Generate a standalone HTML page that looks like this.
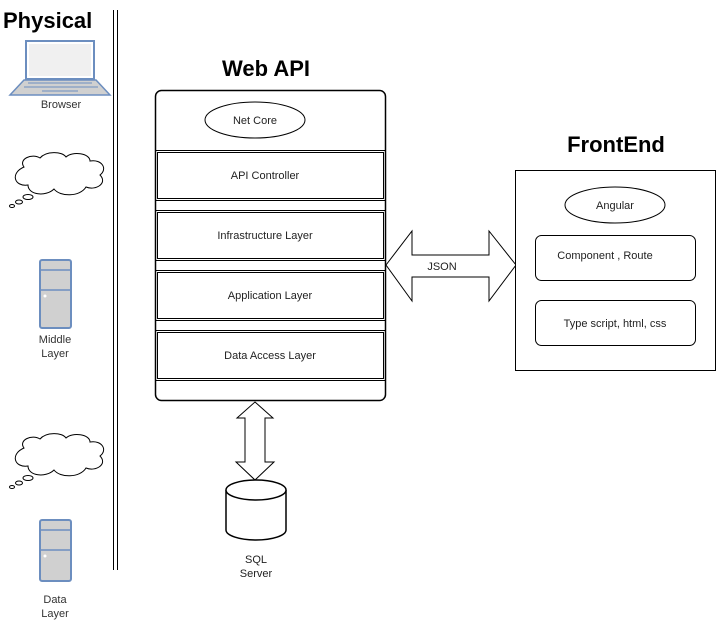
<!DOCTYPE html>
<html><head><style>
body{margin:0;background:#fff;}
svg text{font-family:"Liberation Sans",Arial,sans-serif;}
</style></head><body>
<svg width="716" height="620" xmlns="http://www.w3.org/2000/svg">
<defs>
<g id="cloud">
<path d="M16,14 C10,6 24,0 32,5 C38,-2 54,-2 58,4 C64,-2 82,0 82,8 C94,6 100,16 92,22 C100,30 88,38 78,34 C72,44 52,44 46,36 C38,44 20,42 20,32 C6,34 2,20 16,14 Z" fill="#fff" stroke="#000" stroke-width="1"/>
<ellipse cx="20" cy="44" rx="5" ry="2.5" fill="#fff" stroke="#000"/>
<ellipse cx="11" cy="49" rx="3.5" ry="2" fill="#fff" stroke="#000"/>
<ellipse cx="4" cy="53" rx="2.5" ry="1.5" fill="#fff" stroke="#000"/>
</g>
</defs>
<text x="3" y="28" font-size="22" font-weight="bold">Physical</text>
<line x1="113.5" y1="10" x2="113.5" y2="570" stroke="#000"/>
<line x1="117.5" y1="10" x2="117.5" y2="570" stroke="#000"/>
<!-- laptop -->
<rect x="26" y="41" width="68" height="38" fill="#fff" stroke="#6c8ebf" stroke-width="2"/>
<rect x="29" y="44" width="62" height="32" fill="#f0f0f0"/>
<path d="M24,80 L96,80 L110,95 L10,95 Z" fill="#d0d0d0" stroke="#6c8ebf" stroke-width="1.5"/>
<line x1="28" y1="83" x2="92" y2="83" stroke="#6c8ebf"/>
<line x1="24" y1="87" x2="98" y2="87" stroke="#6c8ebf"/>
<line x1="42" y1="91" x2="78" y2="91" stroke="#6c8ebf"/>
<text x="61" y="108" font-size="11" text-anchor="middle" fill="#333">Browser</text>
<use href="#cloud" x="8" y="153"/>
<use href="#cloud" x="8" y="434"/>
<!-- towers -->
<g>
<rect x="40" y="260" width="31" height="68" rx="2" fill="#d0d0d0" stroke="#6c8ebf" stroke-width="2"/>
<line x1="40" y1="270" x2="71" y2="270" stroke="#6c8ebf" stroke-width="1.5"/>
<line x1="40" y1="290" x2="71" y2="290" stroke="#6c8ebf" stroke-width="1.5"/>
<circle cx="45" cy="296" r="1.5" fill="#fff"/>
</g>
<text x="55" y="343" font-size="11" text-anchor="middle" fill="#333">Middle</text>
<text x="55" y="357" font-size="11" text-anchor="middle" fill="#333">Layer</text>
<g>
<rect x="40" y="520" width="31" height="61" rx="2" fill="#d0d0d0" stroke="#6c8ebf" stroke-width="2"/>
<line x1="40" y1="530" x2="71" y2="530" stroke="#6c8ebf" stroke-width="1.5"/>
<line x1="40" y1="550" x2="71" y2="550" stroke="#6c8ebf" stroke-width="1.5"/>
<circle cx="45" cy="556" r="1.5" fill="#fff"/>
</g>
<text x="55" y="603" font-size="11" text-anchor="middle" fill="#333">Data</text>
<text x="55" y="617" font-size="11" text-anchor="middle" fill="#333">Layer</text>
<!-- Web API -->
<text x="266" y="76" font-size="22" font-weight="bold" text-anchor="middle">Web API</text>
<rect x="155.5" y="90.5" width="230" height="310" rx="6" fill="#fff" stroke="#000" stroke-width="1.5"/>
<ellipse cx="255" cy="120" rx="50" ry="18" fill="#fff" stroke="#000"/>
<text x="255" y="124" font-size="11" text-anchor="middle" fill="#222">Net Core</text>
<g fill="none" stroke="#000">
<rect x="155.5" y="150.5" width="230" height="50"/><rect x="157.5" y="152.5" width="226" height="46"/>
<rect x="155.5" y="210.5" width="230" height="50"/><rect x="157.5" y="212.5" width="226" height="46"/>
<rect x="155.5" y="270.5" width="230" height="50"/><rect x="157.5" y="272.5" width="226" height="46"/>
<rect x="155.5" y="330.5" width="230" height="50"/><rect x="157.5" y="332.5" width="226" height="46"/>
</g>
<text x="265" y="179" font-size="11" text-anchor="middle" fill="#222">API Controller</text>
<text x="265" y="239" font-size="11" text-anchor="middle" fill="#222">Infrastructure Layer</text>
<text x="270" y="299" font-size="11" text-anchor="middle" fill="#222">Application Layer</text>
<text x="270" y="359" font-size="11" text-anchor="middle" fill="#222">Data Access Layer</text>
<!-- JSON arrow -->
<path d="M386,265 L412,231 L412,255 L489,255 L489,231 L516,265 L489,301 L489,277 L412,277 L412,301 Z" fill="#fff" stroke="#000"/>
<text x="442" y="270" font-size="11" text-anchor="middle" fill="#222">JSON</text>
<!-- vertical arrow -->
<path d="M255,402 L273,418 L265,418 L265,462 L274,462 L255,480 L236,462 L245,462 L245,418 L237,418 Z" fill="#fff" stroke="#000"/>
<!-- cylinder -->
<path d="M226,490 L226,530 A30,10 0 0 0 286,530 L286,490" fill="#fff" stroke="#000" stroke-width="1.5"/>
<ellipse cx="256" cy="490" rx="30" ry="10" fill="#fff" stroke="#000" stroke-width="1.5"/>
<text x="256" y="563" font-size="11" text-anchor="middle" fill="#222">SQL</text>
<text x="256" y="577" font-size="11" text-anchor="middle" fill="#222">Server</text>
<!-- FrontEnd -->
<text x="616" y="152" font-size="22" font-weight="bold" text-anchor="middle">FrontEnd</text>
<rect x="515.5" y="170.5" width="200" height="200" fill="#fff" stroke="#000"/>
<ellipse cx="615" cy="205" rx="50" ry="18" fill="#fff" stroke="#000"/>
<text x="615" y="209" font-size="11" text-anchor="middle" fill="#222">Angular</text>
<rect x="535.5" y="235.5" width="160" height="45" rx="6" fill="#fff" stroke="#000"/>
<text x="605" y="259" font-size="11" text-anchor="middle" fill="#222">Component , Route</text>
<rect x="535.5" y="300.5" width="160" height="45" rx="6" fill="#fff" stroke="#000"/>
<text x="615" y="327" font-size="11" text-anchor="middle" fill="#222">Type script, html, css</text>
</svg>
</body></html>
